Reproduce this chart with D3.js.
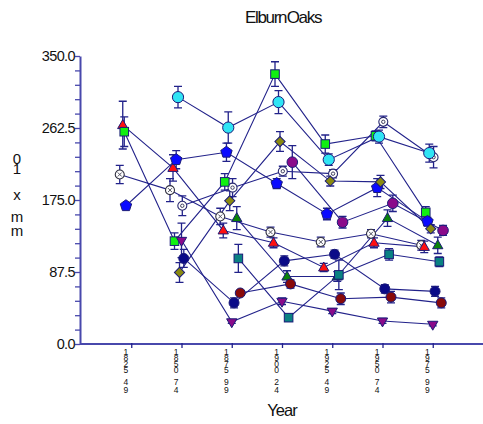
<!DOCTYPE html>
<html><head><meta charset="utf-8">
<script src="https://cdn.jsdelivr.net/npm/d3@7"></script>
<style>
body{margin:0;background:#fff}
svg{display:block}
text{font-family:"Liberation Sans",Arial,Helvetica,sans-serif;fill:#111}
</style>
</head><body>
<svg id="chart" width="483" height="424"></svg>
<script>
// ---------- data ----------
const chartTitle = "Elburn Oaks";
const xTitle = "Year";
const yTitle = "01xmm";
const periods = ["1825-49","1850-74","1875-99","1900-24","1925-49","1950-74","1975-99"];
const yMajorTicks = [0, 87.5, 175, 262.5, 350];

const redTriangle      = [266, 214, 138, 123,  93, 123, 118];
const redTriangleErr   = [ 29,  16,   9,   6,   5,   6,   7];
const greenSquare      = [258, 125, 197, 328, 243, 253, 160];
const greenSquareErr   = [ 18,  10,  10,  15,  11,   6,   7];
const cyanCircle       = [null, 300, 263, 294, 224, 252, 232];
const cyanCircleErr    = [null,  13,  19,  14,   7,   8,  11];
const bluePentagon     = [168, 224, 233, 195, 158, 190, 149];
const bluePentagonErr  = [  2,  11,  11,   6,   7,  11,   5];
const openCross        = [206, 187, 155, 136, 124, 134, 120];
const openCrossErr     = [ 11,  14,  10,   6,   6,   5,   6];
const openDot          = [null, 168, 190, 210, 207, 270, 227];
const openDotErr       = [null,  12,  11,   6,   5,   7,  13];
const oliveDiamond     = [null,  87, 174, 246, 198, 197, 140];
const oliveDiamondErr  = [null,  12,  12,  12,   6,   8,   5];
const purpleCircle     = [null, null, null, 221, 148, 171, 138];
const purpleCircleErr  = [null, null, null,  20,   7,  10,   6];
const darkGreenTri     = [null, null, 153,  82,  82, 153, 120];
const darkGreenTriErr  = [null, null,  14,   7,   6,  10,  10];
const tealSquare       = [null, null, 104,  32,  84, 109, 100];
const tealSquareErr    = [null, null,  17,   4,  18,   7,   6];
const navyCircle       = [null, 104,  50, 101, 109,  67,  64];
const navyCircleErr    = [null,  11,   6,   6,   5,   5,   6];
const darkRedCircle    = [null, null,  62,  73,  55,  57,  50];
const darkRedCircleErr = [null, null,   3,   5,   7,   7,   6];
const purpleDownTri    = [null, 126,  27,  52,  40,  28,  24];
const purpleDownTriErr = [null,  21,   2,   4,   3,   3,   2];

const series = [
  {key:"openCross", values:openCross, err:openCrossErr},
  {key:"openDot", values:openDot, err:openDotErr},
  {key:"redTriangle", values:redTriangle, err:redTriangleErr},
  {key:"greenSquare", values:greenSquare, err:greenSquareErr},
  {key:"cyanCircle", values:cyanCircle, err:cyanCircleErr},
  {key:"bluePentagon", values:bluePentagon, err:bluePentagonErr},
  {key:"oliveDiamond", values:oliveDiamond, err:oliveDiamondErr},
  {key:"purpleCircle", values:purpleCircle, err:purpleCircleErr},
  {key:"darkGreenTri", values:darkGreenTri, err:darkGreenTriErr},
  {key:"tealSquare", values:tealSquare, err:tealSquareErr},
  {key:"navyCircle", values:navyCircle, err:navyCircleErr},
  {key:"darkRedCircle", values:darkRedCircle, err:darkRedCircleErr},
  {key:"purpleDownTri", values:purpleDownTri, err:purpleDownTriErr}
];

// ---------- styles ----------
const style = {
  redTriangle:   {shape:"triangle", fill:"#ff1010", dx:-8.5},
  greenSquare:   {shape:"square",   fill:"#10f010", dx:-7},
  cyanCircle:    {shape:"circle",   fill:"#30e4f4", dx:-3.5, r:5.6},
  bluePentagon:  {shape:"pentagon", fill:"#0a0aff", dx:-5.3},
  openCross:     {shape:"opencross",fill:"#ffffff", dx:-11.5},
  openDot:       {shape:"opendot",  fill:"#ffffff", dx:0.8},
  oliveDiamond:  {shape:"diamond",  fill:"#8a8a10", dx:-2},
  purpleCircle:  {shape:"circle",   fill:"#8a0a8a", dx:10.3, r:5.3},
  darkGreenTri:  {shape:"triangle", fill:"#0a820a", dx:5},
  tealSquare:    {shape:"square",   fill:"#0a8282", dx:6.6},
  navyCircle:    {shape:"circle",   fill:"#0a0a88", dx:2.3, r:5},
  darkRedCircle: {shape:"circle",   fill:"#880a0a", dx:8.5, r:5},
  purpleDownTri: {shape:"downtri",  fill:"#8a0a8a", dx:0}
};
const LINE = "#22228a";
const AXIS = "#4848ac";

// ---------- scales ----------
const svg = d3.select("#chart");
const x = d3.scalePoint().domain(periods).range([81, 483]).padding(1);
const y = d3.scaleLinear().domain([0, 350]).range([344, 56]);

// titles
svg.append("text").attr("x", 283).attr("y", 23).attr("text-anchor","middle")
  .attr("font-size", 17).attr("letter-spacing", -1.3).attr("word-spacing", -3).text(chartTitle);
svg.append("text").attr("x", 282).attr("y", 416).attr("text-anchor","middle")
  .attr("font-size", 16.5).attr("letter-spacing", -0.9).text(xTitle);
// y title, stacked characters
const yTitleBase = [164, 174, 200, 222, 236];
const yt = svg.append("text").attr("font-size", 15).attr("text-anchor","middle");
yTitle.split("").forEach((c,i) => yt.append("tspan").attr("x", 17).attr("y", yTitleBase[i]).text(c));

// y axis
const yAxis = d3.axisLeft(y).tickValues(d3.range(0, 350.001, 17.5)).tickSize(5).tickSizeOuter(0)
  .tickFormat(d => yMajorTicks.some(t => Math.abs(t-d)<1e-6) ? d3.format(".1f")(d) : "");
const gy = svg.append("g").attr("transform","translate(80,0)").call(yAxis);
gy.select(".domain").attr("stroke", AXIS).attr("stroke-width", 2);
gy.selectAll(".tick line").attr("stroke", AXIS).attr("stroke-width", 1.3);
gy.selectAll(".tick text").attr("font-size", 14.5).attr("letter-spacing", -0.6).attr("x", -5).attr("fill","#111")
  .attr("font-family", '"Liberation Sans",Arial,sans-serif');

// x axis
const xAxis = d3.axisBottom(x).tickSize(4).tickSizeOuter(0).tickFormat("");
const gx = svg.append("g").attr("transform","translate(0,344)").call(xAxis);
gx.select(".domain").attr("stroke", AXIS).attr("stroke-width", 2).attr("d", "M80,0H483");
gx.selectAll(".tick line").attr("stroke", "#22228a").attr("stroke-width", 1.3).attr("y1", -1);
// stacked tick labels
const firstBase = [355, 361, 367, 373], secondBase = [385, 392.5];
periods.forEach(p => {
  const [a, b] = p.split("-");
  const t = svg.append("text").attr("font-size", 8.5).attr("text-anchor","middle").attr("fill","#2a2a2a");
  const cx = x(p) - 5.5;
  a.split("").forEach((c,i) => t.append("tspan").attr("x", cx).attr("y", firstBase[i]).text(c));
  b.split("").forEach((c,i) => t.append("tspan").attr("x", cx).attr("y", secondBase[i]).text(c));
});

// ---------- marks ----------
const px = (s, i) => x(periods[i]) + style[s.key].dx;
const plot = svg.append("g");
const lineG = plot.append("g"), errG = plot.append("g"), markG = plot.append("g");

series.forEach(s => {
  const pts = s.values.map((v,i) => v == null ? null : {i, v, e: s.err[i]}).filter(d => d);
  const line = d3.line().x(d => px(s, d.i)).y(d => y(d.v));
  lineG.append("path").datum(pts).attr("d", line).attr("fill","none")
    .attr("stroke", LINE).attr("stroke-width", 1.1);
  pts.forEach(d => {
    const cx = px(s, d.i), y0 = y(d.v - d.e), y1 = y(d.v + d.e);
    errG.append("path").attr("d", `M${cx},${y0}V${y1}M${cx-4},${y0}H${cx+4}M${cx-4},${y1}H${cx+4}`)
      .attr("stroke", LINE).attr("stroke-width", 1.3).attr("fill","none");
  });
});

function pentagon(r){
  const p = d3.range(5).map(k => { const a = -Math.PI/2 + k*2*Math.PI/5; return [r*Math.cos(a), r*Math.sin(a)]; });
  return "M" + p.map(q => q.join(",")).join("L") + "Z";
}
series.forEach(s => {
  const st = style[s.key];
  s.values.forEach((v,i) => {
    if (v == null) return;
    const g = markG.append("g").attr("transform", `translate(${px(s,i)},${y(v)})`);
    const sw = 1, sc = "#1a1a78";
    if (st.shape === "circle") g.append("circle").attr("r", st.r).attr("fill", st.fill).attr("stroke", sc).attr("stroke-width", sw);
    else if (st.shape === "square") g.append("rect").attr("x",-4.3).attr("y",-4.3).attr("width",8.6).attr("height",8.6).attr("fill", st.fill).attr("stroke", sc).attr("stroke-width", sw);
    else if (st.shape === "triangle") g.append("path").attr("d", d3.symbol(d3.symbolTriangle, 46)()).attr("transform","translate(0,0.5)").attr("fill", st.fill).attr("stroke", sc).attr("stroke-width", sw);
    else if (st.shape === "downtri") g.append("path").attr("d", d3.symbol(d3.symbolTriangle, 46)()).attr("transform","rotate(180)").attr("fill", st.fill).attr("stroke", sc).attr("stroke-width", sw);
    else if (st.shape === "diamond") g.append("rect").attr("x",-3.6).attr("y",-3.6).attr("width",7.2).attr("height",7.2).attr("transform","rotate(45)").attr("fill", st.fill).attr("stroke", sc).attr("stroke-width", sw);
    else if (st.shape === "pentagon") g.append("path").attr("d", pentagon(6)).attr("fill", st.fill).attr("stroke", sc).attr("stroke-width", sw);
    else if (st.shape === "opencross") {
      g.append("circle").attr("r", 4.5).attr("fill", "#fff").attr("stroke", "#303040").attr("stroke-width", 1.1);
      g.append("path").attr("d","M-2,-2L2,2M-2,2L2,-2").attr("stroke","#505060").attr("stroke-width",1);
    } else if (st.shape === "opendot") {
      g.append("circle").attr("r", 4.5).attr("fill", "#fff").attr("stroke", "#2a2a70").attr("stroke-width", 1.1);
      g.append("circle").attr("r", 1.7).attr("fill", "none").attr("stroke", "#404060").attr("stroke-width", 1);
    }
  });
});
</script>
</body></html>
